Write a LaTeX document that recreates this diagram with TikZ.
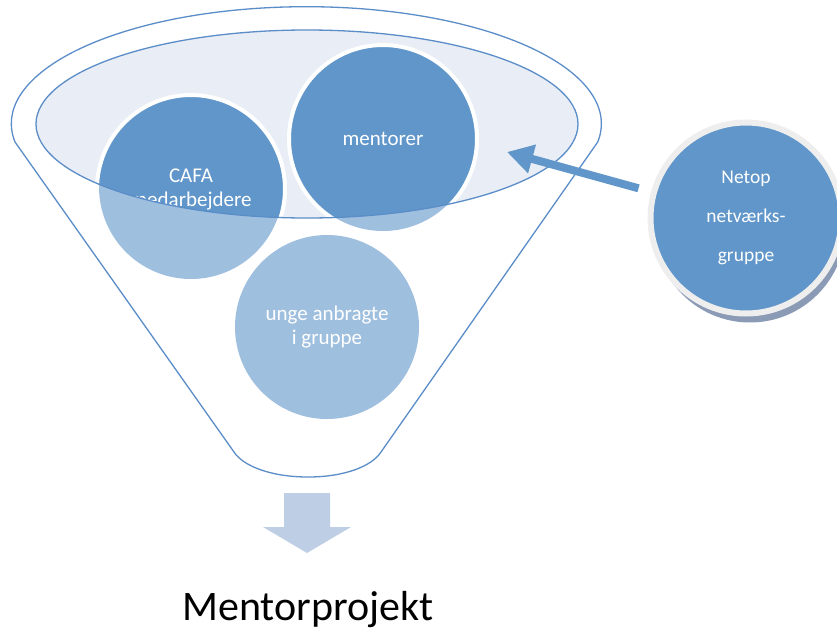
\documentclass[tikz,border=0pt]{standalone}
\usepackage{fontspec}
\setmainfont{Carlito}
\usetikzlibrary{arrows.meta,shadows}
\definecolor{rimline}{HTML}{5B8DC8}
\definecolor{rimfill}{HTML}{E9EDF5}
\definecolor{darkbub}{HTML}{6096C9}
\definecolor{lightbub}{HTML}{9FBFDF}
\definecolor{ringgray}{HTML}{EEEEEE}
\definecolor{shadowblue}{HTML}{8B9BB5}
\definecolor{outarrow}{HTML}{BECFE5}

\begin{document}
\begin{tikzpicture}[x=1pt,y=-1pt,
    rim/.style={draw=rimline,line width=1.3pt},
    bubble/.style={circle,inner sep=0pt,minimum size=188pt,fill=darkbub,
      draw=white,line width=4pt,text=white,align=center,
      font=\fontsize{21}{24}\selectfont}]
    \useasboundingbox (0,0) rectangle (837,629);
    \draw[rim,fill=white] (15,142) arc[start angle=189,end angle=-9,x radius=295pt,y radius=117pt]
      -- (381,452) .. controls (372,466) and (345,477) .. (308,477)
      .. controls (271,477) and (243,466) .. (234,452) -- cycle;
    \fill[rimfill] (307,124) ellipse [x radius=271pt,y radius=94pt];
    \fill[lightbub] (191,187) circle [radius=92pt];
    \fill[lightbub] (383,139) circle [radius=92pt];
    \begin{scope}
      \clip (307,124) ellipse [x radius=271pt,y radius=94pt];
      \node[bubble] (cafa) at (191,189) {CAFA\\medarbejdere};
      \node[bubble] (mentorer) at (383,139) {mentorer};
    \end{scope}
    \draw[rim] (307,124) ellipse [x radius=271pt,y radius=94pt];
    \node[bubble,fill=lightbub,draw=none,minimum size=184pt] (unge) at (327,327) {unge anbragte\\i gruppe};
    \node[bubble,minimum size=191pt,draw=ringgray,line width=6pt,
      font=\fontsize{19.5}{39}\selectfont,
      drop shadow={shadow xshift=4pt,shadow yshift=-9pt,fill=shadowblue,opacity=1}]
      (netop) at (746,218) {Netop\\netværks-\\gruppe};
    \coordinate (tip) at (507,152);
    \draw[line width=8pt,darkbub,-{Triangle[length=26pt,width=28pt]},shorten <=13pt] (netop) -- (tip);
    \fill[outarrow] (284,493) -- (330,493) -- (330,527) -- (351,527) -- (307,553)
      -- (263,527) -- (284,527) -- cycle;
    \node[font=\fontsize{42}{50}\selectfont,anchor=base,inner sep=0pt] (result) at (308,620) {Mentorprojekt};
\end{tikzpicture}
\end{document}
